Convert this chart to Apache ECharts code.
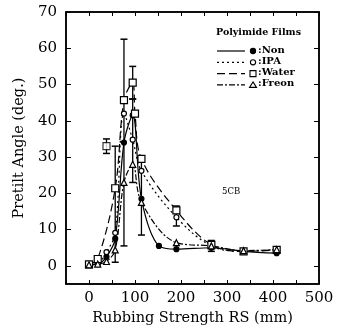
<!DOCTYPE html>
<html><head><meta charset="utf-8">
<script src="https://cdn.jsdelivr.net/npm/echarts@6/dist/echarts.min.js"></script>
<style>html,body{margin:0;padding:0;background:#fff}#c{width:340px;height:331px}</style>
</head><body><div id="c"></div>
<script>
const xTicks = [0, 100, 200, 300, 400, 500];
const yTicks = [0, 10, 20, 30, 40, 50, 60, 70];
const nonData = [[0,0.3],[19,0.5],[38,2.5],[57,7.5],[76,34],[95,41.5],[114,18.5],[152,5.5],[190,4.6],[266,5],[336,4],[408,3.5]];
const ipaData = [[0,0.3],[19,0.6],[38,3.8],[57,9.1],[76,42],[95,34.8],[114,26.2],[190,13.4],[266,5.5],[336,4],[408,4.5]];
const waterData = [[0,0.4],[19,1.9],[57,21.4],[76,45.7],[95,50.5],[100,42],[114,29.5],[190,15.3],[266,5.8],[336,4],[408,4.4]];
const freonData = [[0,0.3],[19,0.5],[38,1.2],[57,4.4],[76,23],[95,28],[114,17.5],[190,6.4],[266,5.5],[336,4.2],[408,4.5]];
const waterOutlier = [[38,33]];
const errBars = [[38,31,35],[57,1,33],[76,5.5,62.5],[95,46,55],[95,23,46],[114,8.5,29],[190,11,16.5],[266,4,7]];
const legendNames = ['Non','IPA','Water','Freon'];

const font = '"DejaVu Serif", "Liberation Serif", serif';
const chart = echarts.init(document.getElementById('c'));
function lineSeries(name, data, symbol, fill, dash){
  return {name, type:'line', data, smooth:0.35, symbol, symbolSize:symbol==='triangle'?6:(symbol==='rect'?7:5),
    lineStyle:{color:'#000', width:1.2, type:dash}, itemStyle:{color:fill, borderColor:'#000', borderWidth:1.2},
    z:3, animation:false};
}
const legendRows = [['solid','circle','#000'],[[2,3],'circle','#fff'],[[8,4],'rect','#fff'],[[6,2,2,2],'triangle','#fff']];
const graphics = [
  {type:'text', left:216, top:28, style:{text:'Polyimide Films', font:'bold 9.5px '+font, fill:'#000'}},
  {type:'text', left:222, top:187, style:{text:'5CB', font:'8.5px '+font, fill:'#000'}}
];
legendRows.forEach((r,i)=>{
  const y = 51 + i*11.3;
  graphics.push({type:'line', shape:{x1:217,y1:y,x2:245,y2:y}, style:{stroke:'#000', lineWidth:1.2, lineDash:r[0]==='solid'?null:r[0]}});
  let sym;
  if(r[1]==='circle') sym={type:'circle', shape:{cx:253,cy:y,r:2.6}, style:{fill:r[2], stroke:'#000', lineWidth:1.1}};
  else if(r[1]==='rect') sym={type:'rect', shape:{x:250,y:y-3,width:6,height:6}, style:{fill:'#fff', stroke:'#000', lineWidth:1.1}};
  else sym={type:'polygon', shape:{points:[[253,y-3],[256.5,y+2.5],[249.5,y+2.5]]}, style:{fill:'#fff', stroke:'#000', lineWidth:1.1}};
  graphics.push(sym);
  graphics.push({type:'text', left:258, top:y-6, style:{text:':'+legendNames[i], font:'bold 10px '+font, fill:'#000'}});
});

function xAx(pos, showLabel){
  return {type:'value', position:pos, min:-50, max:500, interval:50,
    axisLine:{show:true, onZero:false, lineStyle:{color:'#000', width:1.5}},
    axisTick:{show:true, inside:true, length:4, lineStyle:{color:'#000', width:1}},
    axisLabel:{show:showLabel, color:'#000', fontFamily:font, fontSize:15, margin:7,
      formatter:v=> xTicks.indexOf(v)>=0 ? String(v) : ''},
    splitLine:{show:false}};
}
function yAx(pos, showLabel){
  return {type:'value', position:pos, min:-5, max:70, interval:5,
    axisLine:{show:true, onZero:false, lineStyle:{color:'#000', width:1.5}},
    axisTick:{show:true, inside:true, length:5, lineStyle:{color:'#000'}, customValues:yTicks},
    axisLabel:{show:showLabel, color:'#000', fontFamily:font, fontSize:15, margin:9, customValues:yTicks},
    splitLine:{show:false}};
}
const xa = xAx('bottom', true);
Object.assign(xa, {name:'Rubbing Strength RS (mm)', nameLocation:'middle', nameGap:27,
    nameTextStyle:{color:'#000', fontFamily:font, fontSize:14.5}});
const ya = yAx('left', true);
Object.assign(ya, {name:'Pretilt Angle (deg.)', nameLocation:'middle', nameGap:38,
    nameTextStyle:{color:'#000', fontFamily:font, fontSize:14.5}});

chart.setOption({
  animation:false,
  grid:{left:66, right:21, top:12, bottom:45, show:true, borderColor:'#000', borderWidth:1.5},
  xAxis:[xa, xAx('top', false)],
  yAxis:[ya, yAx('right', false)],
  graphic:graphics,
  series:[
    {type:'custom', name:'err', data:errBars, z:2, animation:false,
      renderItem:function(params, api){
        const x=api.value(0), lo=api.value(1), hi=api.value(2);
        const p1=api.coord([x,lo]), p2=api.coord([x,hi]);
        const w=3.5;
        return {type:'group', children:[
          {type:'line', shape:{x1:p1[0],y1:p1[1],x2:p2[0],y2:p2[1]}, style:{stroke:'#000', lineWidth:1.3}},
          {type:'line', shape:{x1:p1[0]-w,y1:p1[1],x2:p1[0]+w,y2:p1[1]}, style:{stroke:'#000', lineWidth:1.5}},
          {type:'line', shape:{x1:p2[0]-w,y1:p2[1],x2:p2[0]+w,y2:p2[1]}, style:{stroke:'#000', lineWidth:1.5}}
        ]};
      }},
    lineSeries('Non', nonData, 'circle', '#000', 'solid'),
    lineSeries('IPA', ipaData, 'circle', '#fff', [2,3]),
    lineSeries('Water', waterData, 'rect', '#fff', [8,4]),
    lineSeries('Freon', freonData, 'triangle', '#fff', [6,2,2,2]),
    {name:'WaterOut', type:'scatter', data:waterOutlier, symbol:'rect', symbolSize:7,
      itemStyle:{color:'#fff', borderColor:'#000', borderWidth:1.2}, z:3}
  ]
});
</script></body></html>
